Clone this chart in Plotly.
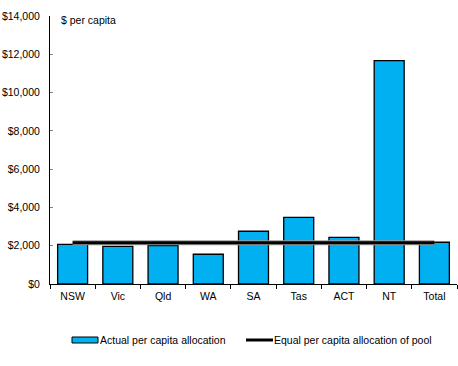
import plotly.graph_objects as go

categories = ["NSW", "Vic", "Qld", "WA", "SA", "Tas", "ACT", "NT", "Total"]
actual_per_capita = [2075, 1970, 2000, 1555, 2755, 3485, 2440, 11670, 2180]
equal_pool_value = 2160
line_categories = ["NSW", "Total"]
line_values = [equal_pool_value, equal_pool_value]
ytick_values = [0, 2000, 4000, 6000, 8000, 10000, 12000, 14000]
ytick_labels = ["$0", "$2,000", "$4,000", "$6,000", "$8,000", "$10,000", "$12,000", "$14,000"]

BAR_COLOR = "#00B0F0"
FONT = "Liberation Sans, Arial, sans-serif"
FS = 10.5

fig = go.Figure()
fig.add_trace(go.Bar(
    x=categories, y=actual_per_capita,
    marker=dict(color=BAR_COLOR, line=dict(color="black", width=1.3)),
    name="Actual per capita allocation", showlegend=False,
))
fig.add_trace(go.Scatter(
    x=line_categories, y=line_values, mode="lines",
    line=dict(color="#9a9a9a", width=5), showlegend=False, hoverinfo="skip",
))
fig.add_trace(go.Scatter(
    x=line_categories, y=line_values, mode="lines",
    line=dict(color="black", width=3),
    name="Equal per capita allocation of pool", showlegend=False,
))

L, T, B = 50, 16, 82
W, H = 458, 366
pw = W - L - 1
ph = H - T - B

def px(xp):
    return (xp - L) / pw

def py(yp):
    return (H - B - yp) / ph

fig.update_layout(
    width=W, height=H,
    margin=dict(l=L, r=1, t=T, b=B, autoexpand=False),
    paper_bgcolor="white", plot_bgcolor="white",
    font=dict(family=FONT, size=FS, color="black"),
    bargap=0.337,
    xaxis=dict(
        type="category", showline=True, linecolor="black", linewidth=1,
        ticks="outside", tickson="boundaries", ticklen=4, tickcolor="black",
        showgrid=False, tickfont=dict(size=FS), automargin=False,
        ticklabelstandoff=2,
    ),
    yaxis=dict(
        range=[0, 14000], tickvals=ytick_values, ticktext=ytick_labels,
        showline=True, linecolor="black", linewidth=1, ticks="inside",
        ticklen=3, tickcolor="#808080", showgrid=False, zeroline=False,
        tickfont=dict(size=FS), automargin=False, ticklabelstandoff=7,
    ),
    annotations=[
        dict(text="$ per capita", xref="paper", yref="paper", x=px(59), y=py(20),
             xanchor="left", yanchor="middle", showarrow=False, font=dict(size=FS)),
        dict(text="Actual per capita allocation", xref="paper", yref="paper",
             x=px(98), y=py(340), xanchor="left", yanchor="middle", showarrow=False,
             font=dict(size=FS)),
        dict(text="Equal per capita allocation of pool", xref="paper", yref="paper",
             x=px(272), y=py(340), xanchor="left", yanchor="middle", showarrow=False,
             font=dict(size=FS)),
    ],
    shapes=[
        dict(type="rect", xref="paper", yref="paper", x0=px(72), x1=px(98),
             y0=py(343), y1=py(337), fillcolor=BAR_COLOR, line=dict(color="black", width=1)),
        dict(type="line", xref="paper", yref="paper", x0=px(246), x1=px(273),
             y0=py(340), y1=py(340), line=dict(color="black", width=3)),
    ],
)

fig.write_html(
    "out.html",
    config={"displayModeBar": False},
    post_script="document.body.style.margin='0';document.body.style.padding='0';",
)
